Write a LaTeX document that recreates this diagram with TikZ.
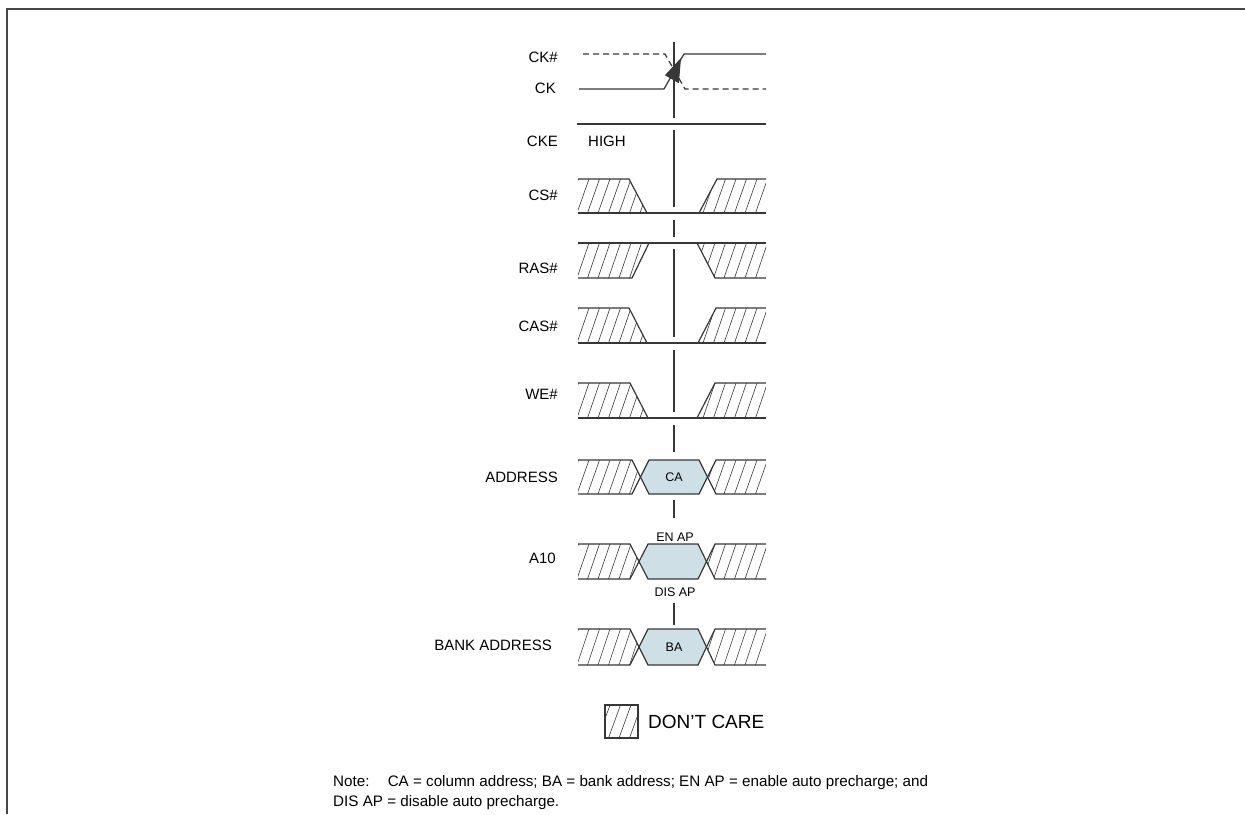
\documentclass[tikz,border=0pt]{standalone}
\usepackage{fontspec}
\setmainfont{Liberation Sans}
\definecolor{wire}{RGB}{55,55,55}
\definecolor{frame}{RGB}{70,70,70}
\definecolor{busfill}{RGB}{206,224,230}
\tikzset{
  sig/.style={draw=wire, line width=1.2pt, line join=miter},
  hatchline/.style={draw=wire, line width=0.6pt},
  clkdash/.style={sig, dash pattern=on 6pt off 4pt},
  lbl/.style={font=\fontsize{15}{18}\selectfont, anchor=east, inner sep=0pt, text=black},
  buslbl/.style={font=\fontsize{12.5}{14}\selectfont, inner sep=0pt, text=black},
  notetext/.style={font=\fontsize{15.2}{18}\selectfont, anchor=west, inner sep=0pt, text=black},
}
\newcommand\hatchfill[3]{%
  \begin{scope}
    \clip #1;
    \foreach \i in {0,...,22} {\draw[hatchline] ({556+\i*10.5},#3) -- ++(12,{#2-#3});}
  \end{scope}}
\begin{document}
\begin{tikzpicture}[x=1pt,y=-1pt]
\useasboundingbox (0,0) rectangle (1245,814);
% frame
\draw[frame, line width=2pt] (7,814) -- (7,9) -- (1245,9);

% labels
\node[lbl] (lckn) at (558,57) {CK\#};
\node[lbl] (lck) at (556,88) {CK};
\node[lbl] (lcke) at (558,141) {CKE};
\node[font=\fontsize{15}{18}\selectfont, anchor=west, inner sep=0pt] (lhigh) at (588,141) {HIGH};
\node[lbl] (lcs) at (558,195) {CS\#};
\node[lbl] (lras) at (558,268) {RAS\#};
\node[lbl] (lcas) at (558,326) {CAS\#};
\node[lbl] (lwe) at (558,394) {WE\#};
\node[lbl] (laddr) at (558,477) {ADDRESS};
\node[lbl] (la10) at (556,558) {A10};
\node[lbl] (lba) at (552,645) {BANK ADDRESS};

% clock
\draw[clkdash] (583,54) -- (665,54) -- (685,89) -- (766,89);
\draw[sig] (579,89) -- (664,89) -- (684,54) -- (766,54);
\fill[wire] (681,58) -- (678.9,83.2) -- (664.9,75.2) -- cycle;

% CKE
\draw[sig] (577,124) -- (766,124);

% vertical reference line
\foreach \a/\b in {42/118,130/207,220/237,249/337,350/412,425/452,500/518,603/625}
  \draw[sig] (674,\a) -- (674,\b);

% CS#
\hatchfill{(578,179) -- (629,179) -- (647,213) -- (578,213) -- cycle}{179}{213}
\hatchfill{(699,213) -- (717,179) -- (766,179) -- (766,213) -- cycle}{179}{213}
\draw[sig] (578,179) -- (629,179) -- (647,213);
\draw[sig] (578,213) -- (766,213);
\draw[sig] (699,213) -- (717,179) -- (766,179);

% RAS#
\hatchfill{(578,243) -- (649,243) -- (632,278) -- (578,278) -- cycle}{243}{278}
\hatchfill{(697,243) -- (715,278) -- (766,278) -- (766,243) -- cycle}{243}{278}
\draw[sig] (578,243) -- (766,243);
\draw[sig] (578,278) -- (632,278) -- (649,243);
\draw[sig] (697,243) -- (715,278) -- (766,278);

% CAS#
\hatchfill{(578,308) -- (629,308) -- (647,343) -- (578,343) -- cycle}{308}{343}
\hatchfill{(698,343) -- (716,308) -- (766,308) -- (766,343) -- cycle}{308}{343}
\draw[sig] (578,308) -- (629,308) -- (647,343);
\draw[sig] (578,343) -- (766,343);
\draw[sig] (698,343) -- (716,308) -- (766,308);

% WE#
\hatchfill{(578,383) -- (630,383) -- (648,418) -- (578,418) -- cycle}{383}{418}
\hatchfill{(697,418) -- (715,383) -- (766,383) -- (766,418) -- cycle}{383}{418}
\draw[sig] (578,383) -- (630,383) -- (648,418);
\draw[sig] (578,418) -- (766,418);
\draw[sig] (697,418) -- (715,383) -- (766,383);

% ADDRESS bus
\hatchfill{(578,460) -- (632,460) -- (640.5,477) -- (632,494) -- (578,494) -- cycle}{460}{494}
\hatchfill{(716,460) -- (766,460) -- (766,494) -- (716,494) -- (707.5,477) -- cycle}{460}{494}
\fill[busfill] (640.5,477) -- (649,460) -- (699,460) -- (707.5,477) -- (699,494) -- (649,494) -- cycle;
\draw[sig] (578,460) -- (632,460) -- (649,494) -- (699,494) -- (716,460) -- (766,460);
\draw[sig] (578,494) -- (632,494) -- (649,460) -- (699,460) -- (716,494) -- (766,494);
\node[buslbl] (ca) at (674,477) {CA};

% A10 bus
\node[buslbl] (enap) at (675,537) {EN AP};
\hatchfill{(578,544) -- (630,544) -- (639,561.5) -- (630,579) -- (578,579) -- cycle}{544}{579}
\hatchfill{(715,544) -- (766,544) -- (766,579) -- (715,579) -- (706.5,561.5) -- cycle}{544}{579}
\fill[busfill] (639,561.5) -- (648,544) -- (698,544) -- (706.5,561.5) -- (698,579) -- (648,579) -- cycle;
\draw[sig] (578,544) -- (630,544) -- (648,579) -- (698,579) -- (715,544) -- (766,544);
\draw[sig] (578,579) -- (630,579) -- (648,544) -- (698,544) -- (715,579) -- (766,579);
\node[buslbl] (disap) at (675,592) {DIS AP};

% BANK ADDRESS bus
\hatchfill{(578,629) -- (630,629) -- (639,647) -- (630,665) -- (578,665) -- cycle}{629}{665}
\hatchfill{(715,629) -- (766,629) -- (766,665) -- (715,665) -- (706.5,647) -- cycle}{629}{665}
\fill[busfill] (639,647) -- (648,629) -- (698,629) -- (706.5,647) -- (698,665) -- (648,665) -- cycle;
\draw[sig] (578,629) -- (630,629) -- (648,665) -- (698,665) -- (715,629) -- (766,629);
\draw[sig] (578,665) -- (630,665) -- (648,629) -- (698,629) -- (715,665) -- (766,665);
\node[buslbl] (ba) at (674,647) {BA};

% legend
\hatchfill{(605,705) rectangle (638,738)}{705}{738}
\draw[sig] (605,705) rectangle (638,738);
\node[font=\fontsize{19}{22}\selectfont, anchor=west, inner sep=0pt] (dc) at (648,722) {DON’T CARE};

% note
\node[notetext] (note1) at (333,783) {Note:\hspace{1.2em}CA = column address; BA = bank address; EN AP = enable auto precharge; and};
\node[notetext] (note2) at (333,803) {DIS AP = disable auto precharge.};
\end{tikzpicture}
\end{document}
